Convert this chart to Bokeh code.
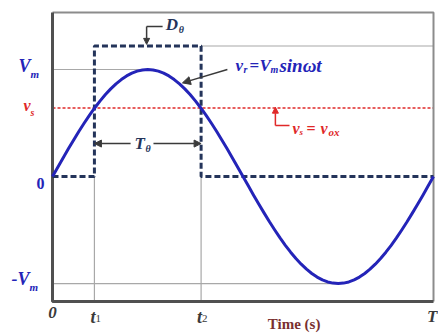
from bokeh.plotting import figure
from bokeh.models import Range1d, Arrow, NormalHead, Label
from bokeh.embed import file_html
from bokeh.resources import INLINE

# ---- values (time in units of T, voltage in units of Vm)
T = 1.0
Vm = 1.0
vs = 0.64
t1 = 0.11
t2 = 0.39
pulse_high = 1.22
y_min, y_max = -1.168, 1.533

sine_t = [k / 72 for k in range(73)]
sine_v = [0.000, 0.087, 0.174, 0.259, 0.342, 0.423, 0.500, 0.574, 0.643, 0.707,
          0.766, 0.819, 0.866, 0.906, 0.940, 0.966, 0.985, 0.996, 1.000,
          0.996, 0.985, 0.966, 0.940, 0.906, 0.866, 0.819, 0.766, 0.707,
          0.643, 0.574, 0.500, 0.423, 0.342, 0.259, 0.174, 0.087, 0.000,
          -0.087, -0.174, -0.259, -0.342, -0.423, -0.500, -0.574, -0.643, -0.707,
          -0.766, -0.819, -0.866, -0.906, -0.940, -0.966, -0.985, -0.996, -1.000,
          -0.996, -0.985, -0.966, -0.940, -0.906, -0.866, -0.819, -0.766, -0.707,
          -0.643, -0.574, -0.500, -0.423, -0.342, -0.259, -0.174, -0.087, 0.000]
pulse_t = [0, t1, t1, t2, t2, T]
pulse_v = [0, 0, pulse_high, pulse_high, 0, 0]

BLUE = "#2424b8"
RED = "#e02828"
NAVY = "#24345a"
GREY = "#a8a8a8"
DARK = "#3a3a3a"
FONT = "Liberation Serif"

# the plotting area covers the whole canvas so that outer labels are not clipped
p = figure(width=438, height=333, output_backend="svg", toolbar_location=None,
           x_range=Range1d(-0.1365, 1.0131), y_range=Range1d(-1.467, 1.645),
           min_border=0)
p.xaxis.visible = False
p.yaxis.visible = False
p.xgrid.visible = False
p.ygrid.visible = False
p.outline_line_color = None
p.background_fill_color = "white"
p.border_fill_color = "white"

# guide lines
p.segment(x0=[0, 0, t2, t1, t2], y0=[Vm, -Vm, pulse_high, y_min, y_min],
          x1=[T / 4, 3 * T / 4, T, t1, t2], y1=[Vm, -Vm, pulse_high, 0, 0],
          line_color=GREY, line_width=1.2)
p.line([0, T], [vs, vs], line_color=RED, line_width=1.5, line_dash="3 2")

# frame
p.line([0, T, T], [y_max, y_max, y_min], line_color="#8c8c8c", line_width=2)
p.line([0, 0, T], [y_max, y_min, y_min], line_color="#505050", line_width=3)

p.line(pulse_t, pulse_v, line_color=NAVY, line_width=3, line_dash="6 3")
p.line(sine_t, sine_v, line_color=BLUE, line_width=3, line_join="round")


def lab(x, y, text, color, size=16, style="bold italic", dx=0, dy=0,
        align="left", baseline="middle"):
    p.add_layout(Label(x=x, y=y, text=text, text_color=color, text_font=FONT,
                       text_font_size=f"{size}px", text_font_style=style,
                       x_offset=dx, y_offset=dy, text_align=align,
                       text_baseline=baseline))


# y labels
lab(0, Vm, "V", BLUE, 18, dx=-22, dy=4, align="right")
lab(0, Vm, "m", BLUE, 11, dx=-22, dy=-4)
lab(0, vs, "v", RED, 16, dx=-22, dy=3, align="right")
lab(0, vs, "s", RED, 10, dx=-22, dy=-4)
lab(0, 0, "0", BLUE, 16, style="bold", dx=-8, dy=-7, align="right")
lab(0, -Vm, "-V", BLUE, 18, dx=-23, dy=5, align="right")
lab(0, -Vm, "m", BLUE, 11, dx=-23, dy=-3)

# x labels
lab(0, y_min, "0", DARK, 17, dx=0, dy=-5, align="center", baseline="top")
lab(t1, y_min, "t", DARK, 18, dx=1, dy=-5, align="right", baseline="top")
lab(t1, y_min, "1", DARK, 11, style="normal", dx=1, dy=-13, baseline="top")
lab(t2, y_min, "t", DARK, 18, dx=1, dy=-5, align="right", baseline="top")
lab(t2, y_min, "2", DARK, 11, style="normal", dx=1, dy=-13, baseline="top")
lab(T, y_min, "T", DARK, 17, dx=4, dy=-5, align="right", baseline="top")
lab(0.565, y_min, "Time (s)", "#7a3030", 15, style="bold", dy=-14, baseline="top")

# D_theta annotation
lab(0.297, 1.42, "D", NAVY, 17)
lab(0.297, 1.42, "θ", NAVY, 10, dx=13, dy=-5)
p.line([0.289, 0.247], [1.402, 1.402], line_color=DARK, line_width=1.5)
p.add_layout(Arrow(x_start=0.247, y_start=1.402, x_end=0.247, y_end=1.235,
                   line_color=DARK, line_width=1.5,
                   end=NormalHead(size=6, fill_color=DARK, line_color=DARK)))

# v_r annotation
vx, vy = 0.480, 1.037
lab(vx, vy, "v", BLUE, 17)
lab(vx, vy, "r", BLUE, 10, dx=8, dy=-4)
lab(vx, vy, "=", BLUE, 17, style="bold", dx=14)
lab(vx, vy, "V", BLUE, 17, dx=24)
lab(vx, vy, "m", BLUE, 10, dx=35, dy=-4)
lab(vx, vy, "sinωt", BLUE, 19, dx=44)
p.add_layout(Arrow(x_start=0.459, y_start=1.0, x_end=0.341, y_end=0.875,
                   line_color=DARK, line_width=1.5,
                   end=NormalHead(size=8, fill_color=DARK, line_color=DARK)))

# v_s annotation
sx, sy = 0.630, 0.449
lab(sx, sy, "v", RED, 16)
lab(sx, sy, "s", RED, 9, dx=7, dy=-4)
lab(sx, sy, "=", RED, 16, style="bold", dx=14)
lab(sx, sy, "v", RED, 16, dx=28)
lab(sx, sy, "ox", RED, 11, dx=36, dy=-4)
p.line([0.622, 0.585], [0.477, 0.477], line_color=RED, line_width=1.5)
p.add_layout(Arrow(x_start=0.585, y_start=0.477, x_end=0.585, y_end=0.648,
                   line_color=RED, line_width=1.5,
                   end=NormalHead(size=6, fill_color=RED, line_color=RED)))

# T_theta annotation
tx, ty = 0.215, 0.308
lab(tx, ty, "T", NAVY, 17)
lab(tx, ty, "θ", NAVY, 10, dx=11, dy=-5)
p.add_layout(Arrow(x_start=0.205, y_start=ty, x_end=t1, y_end=ty,
                   line_color=DARK, line_width=1.5,
                   end=NormalHead(size=7, fill_color=DARK, line_color=DARK)))
p.add_layout(Arrow(x_start=0.265, y_start=ty, x_end=t2, y_end=ty,
                   line_color=DARK, line_width=1.5,
                   end=NormalHead(size=7, fill_color=DARK, line_color=DARK)))

open("out.html", "w").write(file_html(p, INLINE))
